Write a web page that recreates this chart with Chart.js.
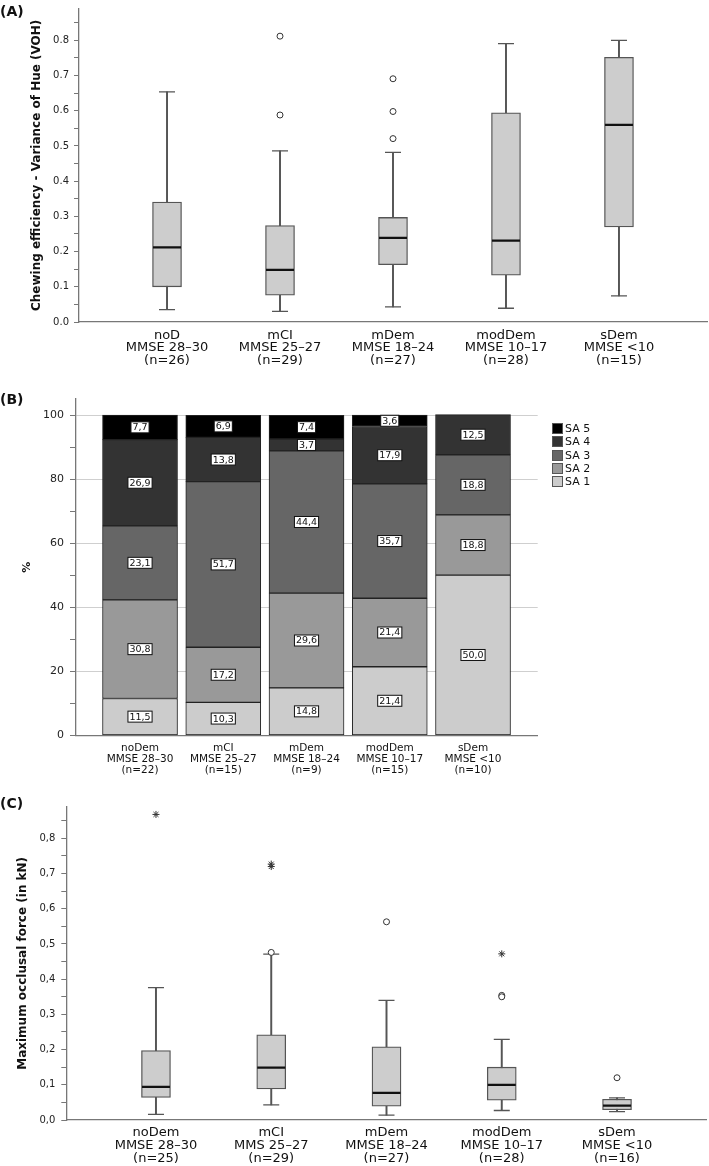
<!DOCTYPE html>
<html>
<head>
<meta charset="utf-8">
<script src="https://cdn.jsdelivr.net/npm/chart.js@4.4.1/dist/chart.umd.min.js"></script>
<style>
  body { margin: 0; background: #fff; width: 709px; height: 1166px; position: relative; overflow: hidden; font-family: 'DejaVu Sans', sans-serif; }
  .panel { position: absolute; left: 0; width: 709px; }
  .tag { position: absolute; left: 0; font: bold 14px 'DejaVu Sans', sans-serif; line-height: 14px; color: #111; z-index: 2; }
  #legendB { position: absolute; left: 552px; top: 422px; font-size: 11px; color: #111; z-index: 2; }
  #legendB .item { height: 13.3px; display: flex; align-items: center; }
  #legendB .swatch { width: 9px; height: 9px; border: 1px solid #555; margin-right: 2px; }
</style>
</head>
<body>
<div class="tag" style="top:4px">(A)</div>
<div class="panel" style="top:0;height:375px"><canvas id="chartA"></canvas></div>
<div class="tag" style="top:392px">(B)</div>
<div class="panel" style="top:380px;height:395px"><canvas id="chartB"></canvas></div>
<div id="legendB"></div>
<div class="tag" style="top:796px">(C)</div>
<div class="panel" style="top:780px;height:386px"><canvas id="chartC"></canvas></div>

<script>
Chart.defaults.font.family = "'DejaVu Sans', sans-serif";

// (A) chewing efficiency, variance of hue
const groupsA = ['noD', 'mCI', 'mDem', 'modDem', 'sDem'];
const mmseA = ['MMSE 28–30', 'MMSE 25–27', 'MMSE 18–24', 'MMSE 10–17', 'MMSE <10'];
const nA = [26, 29, 27, 28, 15];
const lowA = [0.035, 0.030, 0.043, 0.039, 0.074];
const q1A = [0.100, 0.076, 0.163, 0.133, 0.270];
const medA = [0.212, 0.148, 0.239, 0.231, 0.560];
const q3A = [0.341, 0.274, 0.297, 0.594, 0.752];
const highA = [0.654, 0.486, 0.482, 0.791, 0.800];
const outA = [[], [0.812, 0.588], [0.691, 0.598, 0.521], [], []];
const extA = [[], [], [], [], []];

// (B) swallowing ability, % per group
const groupsB = ['noDem', 'mCI', 'mDem', 'modDem', 'sDem'];
const mmseB = ['MMSE 28–30', 'MMSE 25–27', 'MMSE 18–24', 'MMSE 10–17', 'MMSE <10'];
const nB = [22, 15, 9, 15, 10];
const seriesB = ['SA 1', 'SA 2', 'SA 3', 'SA 4', 'SA 5'];
const colorsB = ['#cccccc', '#999999', '#666666', '#333333', '#000000'];
const sa1 = [11.5, 10.3, 14.8, 21.4, 50.0];
const sa2 = [30.8, 17.2, 29.6, 21.4, 18.8];
const sa3 = [23.1, 51.7, 44.4, 35.7, 18.8];
const sa4 = [26.9, 13.8, 3.7, 17.9, 12.5];
const sa5 = [7.7, 6.9, 7.4, 3.6, 0];
const yTicksB = [0, 10, 20, 30, 40, 50, 60, 70, 80, 90, 100];

// (C) maximum occlusal force
const groupsC = ['noDem', 'mCI', 'mDem', 'modDem', 'sDem'];
const mmseC = ['MMSE 28–30', 'MMS 25–27', 'MMSE 18–24', 'MMSE 10–17', 'MMSE <10'];
const nC = [25, 29, 27, 28, 16];
const lowC = [0.016, 0.043, 0.014, 0.027, 0.024];
const q1C = [0.064, 0.088, 0.039, 0.056, 0.029];
const medC = [0.094, 0.149, 0.077, 0.100, 0.041];
const q3C = [0.197, 0.242, 0.208, 0.150, 0.059];
const highC = [0.376, 0.471, 0.340, 0.229, 0.063];
const outC = [[], [0.476], [0.563], [0.354, 0.350], [0.120]];
const extC = [[0.868], [0.727, 0.720], [], [0.472], []];

const yTicksBox = [0, 0.05, 0.1, 0.15, 0.2, 0.25, 0.3, 0.35, 0.4, 0.45, 0.5, 0.55, 0.6, 0.65, 0.7, 0.75, 0.8, 0.85];

// keep the chart area where the axes are told to be
function noEdgePadding(axis) {
  axis.paddingLeft = 0;
  axis.paddingRight = 0;
  axis.paddingTop = 0;
  axis.paddingBottom = 0;
}

function boxChart(id, cfg) {
  const idx = cfg.q1.map((_, i) => i);
  const pts = arr => arr.map((v, i) => ({x: i, y: v}));
  const listPts = lists => lists.flatMap((list, i) => list.map(v => ({x: i, y: v})));
  return new Chart(document.getElementById(id), {
    type: 'bar',
    data: {
      datasets: [
        // whisker stems
        {data: idx.map(i => ({x: i, y: [cfg.low[i], cfg.high[i]]})), barThickness: 1.3,
         backgroundColor: '#555', borderWidth: 0, grouped: false, order: 5},
        // boxes
        {data: idx.map(i => ({x: i, y: [cfg.q1[i], cfg.q3[i]]})), barThickness: 29,
         backgroundColor: '#cdcdcd', borderColor: '#555', borderWidth: 1.3, borderSkipped: false, grouped: false, order: 4},
        // whisker caps
        {type: 'scatter', data: pts(cfg.low).concat(pts(cfg.high)), pointStyle: 'line', pointRadius: 8,
         borderColor: '#555', borderWidth: 1.3, order: 3},
        // medians
        {type: 'scatter', data: pts(cfg.median), pointStyle: 'line', pointRadius: 14,
         borderColor: '#111', borderWidth: 2.3, order: 2},
        // outliers
        {type: 'scatter', data: listPts(cfg.outliers), pointStyle: 'circle', pointRadius: 3,
         backgroundColor: '#fff', borderColor: '#333', borderWidth: 1, order: 1},
        // extremes
        {type: 'scatter', data: listPts(cfg.extremes), pointStyle: 'star', pointRadius: 3.5,
         borderColor: '#333', borderWidth: 1, order: 1}
      ]
    },
    options: {
      responsive: true,
      maintainAspectRatio: false,
      animation: false,
      events: [],
      layout: {padding: cfg.padding, autoPadding: false},
      plugins: {legend: {display: false}, tooltip: {enabled: false}},
      scales: {
        x: {
          type: 'linear', min: cfg.xMin, max: cfg.xMax, offset: false,
          grid: {display: false, drawTicks: false},
          border: {color: '#777', width: 1.3},
          afterBuildTicks: axis => { axis.ticks = idx.map(i => ({value: i})); },
          afterFit: axis => { axis.height = cfg.xHeight; noEdgePadding(axis); },
          ticks: {
            autoSkip: false, maxRotation: 0, padding: cfg.xPad, color: '#111',
            font: {size: 13, lineHeight: cfg.xLine},
            callback: v => cfg.labels[v]
          }
        },
        y: {
          min: 0, max: 0.89,
          afterBuildTicks: axis => { axis.ticks = yTicksBox.map(v => ({value: v})); },
          afterFit: axis => { axis.width = cfg.yWidth; noEdgePadding(axis); },
          grid: {drawOnChartArea: false, tickLength: 5, tickColor: '#777'},
          border: {color: '#777', width: 1.3},
          ticks: {
            padding: cfg.yPad, color: '#222', font: {size: 10},
            callback: v => Math.round(v * 100) % 10 === 0 ? v.toFixed(1).replace('.', cfg.decimal) : ''
          },
          title: {display: true, text: cfg.title, color: '#111', font: {size: 12, weight: 'bold'}, padding: {top: cfg.titlePad}}
        }
      }
    }
  });
}

boxChart('chartA', {
  low: lowA, q1: q1A, median: medA, q3: q3A, high: highA, outliers: outA, extremes: extA,
  labels: groupsA.map((g, i) => [g, mmseA[i], `(n=${nA[i]})`]),
  title: 'Chewing efficiency - Variance of Hue (VOH)', decimal: '.',
  padding: {top: 8.7, right: 2, left: 0, bottom: 0},
  xMin: -0.779, xMax: 4.779, xHeight: 53, xPad: 7, xLine: '12.5px',
  yWidth: 79, yPad: 5, titlePad: 29.8
});

boxChart('chartC', {
  low: lowC, q1: q1C, median: medC, q3: q3C, high: highC, outliers: outC, extremes: extC,
  labels: groupsC.map((g, i) => [g, mmseC[i], `(n=${nC[i]})`]),
  title: 'Maximum occlusal force (in kN)', decimal: ',',
  padding: {top: 26.7, right: 2.3, left: 0, bottom: 0},
  xMin: -0.778, xMax: 4.778, xHeight: 46, xPad: 6.3, xLine: '12.8px',
  yWidth: 66.3, yPad: 6, titlePad: 16
});

// value boxes in the stacked bars
const valueBoxes = {
  id: 'valueBoxes',
  afterDatasetsDraw(chart) {
    const ctx = chart.ctx;
    ctx.save();
    ctx.font = "9.5px 'DejaVu Sans', sans-serif";
    ctx.textAlign = 'center';
    ctx.textBaseline = 'middle';
    chart.data.datasets.forEach((ds, s) => {
      chart.getDatasetMeta(s).data.forEach((bar, i) => {
        const v = ds.data[i].y;
        if (!v) return;
        const txt = v.toFixed(1).replace('.', ',');
        const w = ctx.measureText(txt).width + 3;
        const h = 11;
        const y = (bar.y + bar.base) / 2;
        ctx.fillStyle = '#fff';
        ctx.fillRect(bar.x - w / 2, y - h / 2, w, h);
        ctx.strokeStyle = '#111';
        ctx.lineWidth = 1;
        ctx.strokeRect(bar.x - w / 2, y - h / 2, w, h);
        ctx.fillStyle = '#111';
        ctx.fillText(txt, bar.x, y + 0.5);
      });
    });
    ctx.restore();
  }
};

const valuesB = [sa1, sa2, sa3, sa4, sa5];
const labelsB = groupsB.map((g, i) => [g, mmseB[i], `(n=${nB[i]})`]);

const chartB = new Chart(document.getElementById('chartB'), {
  type: 'bar',
  data: {
    datasets: seriesB.map((name, s) => ({
      label: name,
      data: valuesB[s].map((v, i) => ({x: i, y: v})),
      backgroundColor: colorsB[s],
      borderColor: '#222',
      borderWidth: 1,
      borderSkipped: false,
      barThickness: 75
    }))
  },
  options: {
    responsive: true,
    maintainAspectRatio: false,
    animation: false,
    events: [],
    layout: {padding: {top: 19, right: 171.3, left: 0, bottom: 0}, autoPadding: false},
    plugins: {legend: {display: false}, tooltip: {enabled: false}},
    scales: {
      x: {
        type: 'linear', stacked: true, min: -0.769, max: 4.777, offset: false,
        grid: {display: false, drawTicks: false},
        border: {color: '#777', width: 1.3},
        afterBuildTicks: axis => { axis.ticks = groupsB.map((_, i) => ({value: i})); },
        afterFit: axis => { axis.height = 39.7; noEdgePadding(axis); },
        ticks: {
          autoSkip: false, maxRotation: 0, padding: 7, color: '#111',
          font: {size: 10.5, lineHeight: '11.3px'},
          callback: v => labelsB[v]
        }
      },
      y: {
        stacked: true, min: 0, max: 105,
        afterBuildTicks: axis => { axis.ticks = yTicksB.map(v => ({value: v})); },
        afterFit: axis => { axis.width = 76; noEdgePadding(axis); },
        grid: {
          tickLength: 6, tickColor: '#777',
          color: c => (c.tick && c.tick.value > 0 && c.tick.value % 20 === 0) ? '#cfcfcf' : 'rgba(0,0,0,0)'
        },
        border: {color: '#777', width: 1.3},
        ticks: {
          padding: 6, color: '#222', font: {size: 11},
          callback: v => v % 20 === 0 ? String(v) : ''
        },
        title: {display: true, text: '%', color: '#111', font: {size: 11, weight: 'bold'}, padding: {top: 20.4}}
      }
    }
  },
  plugins: [valueBoxes]
});

// legend for (B), top entry first
const legendB = document.getElementById('legendB');
seriesB.slice().reverse().forEach(name => {
  const s = seriesB.indexOf(name);
  const item = document.createElement('div');
  item.className = 'item';
  item.innerHTML = `<span class="swatch" style="background:${colorsB[s]}"></span><span>${name}</span>`;
  legendB.appendChild(item);
});
</script>
</body>
</html>
